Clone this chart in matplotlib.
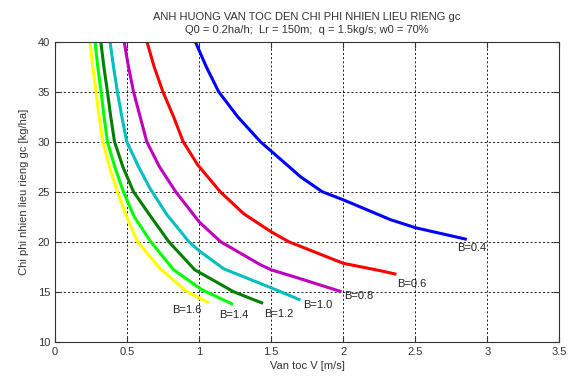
import matplotlib
matplotlib.use("Agg")
import matplotlib.pyplot as plt

plt.rcParams["font.family"] = ["Liberation Sans", "DejaVu Sans"]

# Doc tu hinh: van toc V [m/s] va chi phi nhien lieu gc [kg/ha] cho tung be rong B
b_labels = ["B=0.4", "B=0.6", "B=0.8", "B=1.0", "B=1.2", "B=1.4", "B=1.6"]
line_colors = ["#0000ff", "#ff0000", "#bf00bf", "#00bfbf", "#007f00", "#00ff00", "#ffff00"]

v_b04 = [0.974, 1.050, 1.136, 1.268, 1.426, 1.625, 1.704, 1.855, 2.0, 2.33, 2.503, 2.858]
gc_b04 = [40, 37.5, 35, 32.5, 30, 27.5, 26.5, 25, 24.2, 22.2, 21.4, 20.24]

v_b06 = [0.638, 0.688, 0.749, 0.823, 0.89, 0.99, 1.147, 1.31, 1.5, 1.623, 2.0, 2.26, 2.37]
gc_b06 = [40, 37.5, 35, 32.5, 30, 27.7, 25, 22.8, 21.0, 20, 17.85, 17.1, 16.75]

v_b08 = [0.480, 0.510, 0.545, 0.591, 0.637, 0.725, 0.838, 1.0, 1.15, 1.426, 1.5, 1.704, 1.989]
gc_b08 = [40, 37.5, 35, 32.5, 30, 27.5, 25, 22.0, 20.0, 17.7, 17.2, 16.3, 15.0]

v_b10 = [0.382, 0.406, 0.433, 0.464, 0.498, 0.580, 0.661, 0.777, 0.93, 1.0, 1.171, 1.5, 1.704]
gc_b10 = [40, 37.5, 35, 32.5, 30, 27.5, 25.3, 22.7, 20.0, 19.1, 17.3, 15.4, 14.17]

v_b12 = [0.318, 0.339, 0.364, 0.387, 0.413, 0.471, 0.545, 0.661, 0.79, 0.97, 1.24, 1.444]
gc_b12 = [40, 37.5, 35, 32.5, 30, 27.5, 25, 22.6, 20, 17.2, 15.0, 13.84]

v_b14 = [0.278, 0.297, 0.320, 0.341, 0.364, 0.415, 0.475, 0.55, 0.665, 0.823, 1.02, 1.236]
gc_b14 = [40, 37.5, 35, 32.5, 30, 27.5, 25, 22.5, 20, 17.2, 15.2, 13.74]

v_b16 = [0.243, 0.262, 0.285, 0.306, 0.332, 0.378, 0.433, 0.5, 0.573, 0.661, 0.730, 0.916, 1.066]
gc_b16 = [40, 37.5, 35, 32.5, 30, 27.5, 25, 22.4, 20, 18.5, 17.3, 15.0, 13.9]

# vi tri nhan B=... (goc trai cua chu)
label_v = [2.79, 2.376, 2.005, 1.722, 1.449, 1.140, 0.814]
label_gc = [19.4, 15.8, 14.6, 13.7, 12.8, 12.7, 13.2]

all_v = [v_b04, v_b06, v_b08, v_b10, v_b12, v_b14, v_b16]
all_gc = [gc_b04, gc_b06, gc_b08, gc_b10, gc_b12, gc_b14, gc_b16]

fig = plt.figure(figsize=(5.73, 3.76), dpi=100)
ax = fig.add_axes([0.096, 0.091, 0.88, 0.798])

for v, gc, c in zip(all_v, all_gc, line_colors):
    ax.plot(v, gc, color=c, linewidth=2.2, solid_capstyle="butt",
            solid_joinstyle="round")

for lab, x, y in zip(b_labels, label_v, label_gc):
    ax.text(x, y, lab, fontsize=8, ha="left", va="center", color="#222222")

ax.set_xlim(0, 3.5)
ax.set_ylim(10, 40)
ax.set_xticks([0, 0.5, 1, 1.5, 2, 2.5, 3, 3.5])
ax.set_xticklabels(["0", "0.5", "1", "1.5", "2", "2.5", "3", "3.5"])
ax.set_yticks([10, 15, 20, 25, 30, 35, 40])
ax.grid(True, color="black", linestyle=(0, (2.5, 2.5)), linewidth=0.6)
ax.tick_params(direction="in", top=True, right=True, labelsize=8, length=4,
               colors="#333333", labelcolor="#333333")
for s in ax.spines.values():
    s.set_color("#333333")
    s.set_linewidth(0.8)

ax.set_xlabel("Van toc V [m/s]", fontsize=8, color="#333333", labelpad=3)
ax.set_ylabel("Chi phi nhien lieu rieng gc [kg/ha]", fontsize=8, color="#333333", labelpad=6)
ax.set_title("ANH HUONG VAN TOC DEN CHI PHI NHIEN LIEU RIENG gc\n"
             "Q0 = 0.2ha/h;  Lr = 150m;  q = 1.5kg/s; w0 = 70%",
             fontsize=8, color="#333333", pad=6, linespacing=1.4)

fig.savefig("out.png", dpi=100)
